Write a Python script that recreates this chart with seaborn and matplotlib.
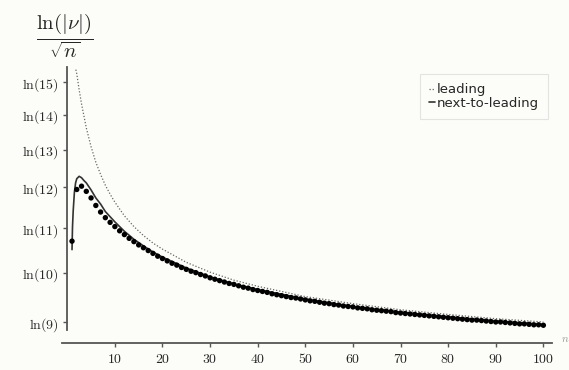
import matplotlib
matplotlib.use("Agg")
import matplotlib.pyplot as plt
import seaborn as sns
import numpy as np
import pandas as pd

# values (y = ln|nu| / sqrt(n))
n_dots = list(range(1, 101))
y_dots = [2.370, 2.480, 2.487, 2.476, 2.462, 2.446, 2.432, 2.420, 2.410, 2.401,
          2.392, 2.384, 2.376, 2.369, 2.362, 2.356, 2.350, 2.344, 2.338, 2.333,
          2.328, 2.323, 2.319, 2.314, 2.310, 2.306, 2.303, 2.299, 2.296, 2.292,
          2.289, 2.286, 2.283, 2.280, 2.278, 2.275, 2.272, 2.270, 2.267, 2.265,
          2.263, 2.261, 2.258, 2.256, 2.254, 2.252, 2.250, 2.249, 2.247, 2.245,
          2.243, 2.242, 2.240, 2.238, 2.237, 2.235, 2.234, 2.232, 2.231, 2.230,
          2.228, 2.227, 2.226, 2.224, 2.223, 2.222, 2.221, 2.220, 2.218, 2.217,
          2.216, 2.215, 2.214, 2.213, 2.212, 2.211, 2.210, 2.209, 2.208, 2.207,
          2.206, 2.205, 2.204, 2.203, 2.202, 2.202, 2.201, 2.200, 2.199, 2.198,
          2.198, 2.197, 2.196, 2.195, 2.194, 2.194, 2.193, 2.192, 2.192, 2.191]

n_lead = [1.8, 2, 2.5, 3, 4, 5, 6, 7, 8, 9, 10, 12, 14, 16, 18, 20, 25, 30, 35, 40,
          50, 60, 70, 80, 90, 100]
y_lead = [2.735, 2.726, 2.692, 2.662, 2.611, 2.571, 2.538, 2.512, 2.489, 2.470,
          2.453, 2.424, 2.401, 2.382, 2.366, 2.353, 2.325, 2.304, 2.287, 2.274,
          2.252, 2.237, 2.224, 2.214, 2.205, 2.198]

n_nlo = [1.0, 1.1, 1.25, 1.5, 1.75, 2, 2.5, 3, 3.5, 4, 5, 6, 7, 8, 9, 10, 12, 14, 16,
         18, 20, 25, 30, 35, 40, 50, 60, 70, 80, 90, 100]
y_nlo = [2.352, 2.400, 2.435, 2.474, 2.494, 2.503, 2.508, 2.505, 2.499, 2.494,
         2.479, 2.462, 2.449, 2.433, 2.422, 2.411, 2.391, 2.374, 2.360, 2.347,
         2.336, 2.313, 2.294, 2.279, 2.267, 2.247, 2.231, 2.219, 2.209, 2.200, 2.193]

y_ticks = [np.log(k) for k in range(9, 16)]
y_ticklabels = [r"$\ln(%d)$" % k for k in range(9, 16)]
x_ticks = list(range(10, 101, 10))

sns.set_style("ticks")
plt.rcParams["mathtext.fontset"] = "cm"
plt.rcParams["font.family"] = ["DejaVu Sans"]

bg = "#fcfdf8"
spine_col = "#555555"

fig = plt.figure(figsize=(5.69, 3.70), dpi=100, facecolor=bg)
ax = fig.add_axes([0.109, 0.072, 0.861, 0.748], facecolor=bg)

df_lead = pd.DataFrame({"n": n_lead, "y": y_lead})
df_nlo = pd.DataFrame({"n": n_nlo, "y": y_nlo})
df_dots = pd.DataFrame({"n": n_dots, "y": y_dots})

sns.lineplot(data=df_lead, x="n", y="y", ax=ax, color="#666666", lw=0.9,
             linestyle=(0, (1, 1.5)), label="leading", sort=False)
sns.lineplot(data=df_nlo, x="n", y="y", ax=ax, color="#333333", lw=1.2,
             label="next-to-leading", sort=False)
sns.scatterplot(data=df_dots, x="n", y="y", ax=ax, color="black", s=15,
                edgecolor="none", zorder=3)

ax.set_xlim(-1.1, 101.8)
ax.set_ylim(2.1525, 2.7415)
ax.spines["left"].set_position(("data", 0))
ax.spines["left"].set_bounds(2.180, 2.7415)
ax.spines["top"].set_visible(False)
ax.spines["right"].set_visible(False)
for s in ["left", "bottom"]:
    ax.spines[s].set_color(spine_col)
    ax.spines[s].set_linewidth(1.3)

ax.set_yticks(y_ticks)
ax.set_yticklabels(y_ticklabels)
ax.set_xticks(x_ticks)
ax.set_xticklabels([r"$%d$" % v for v in x_ticks])
ax.tick_params(axis="both", direction="out", length=3, width=1, color=spine_col,
               labelsize=10, pad=3)
ax.set_xlabel("")
ax.set_ylabel("")

fig.text(0.113, 0.905, r"$\dfrac{\ln(|\nu|)}{\sqrt{n}}$", fontsize=15,
         ha="center", va="center")
fig.text(0.986, 0.085, r"$n$", fontsize=8, color="#999999", ha="left", va="center")

leg = ax.legend(loc="upper right", bbox_to_anchor=(0.963, 0.80),
                bbox_transform=fig.transFigure, fontsize=9.5, frameon=True,
                fancybox=False, handlelength=0.45, handletextpad=0.12,
                labelspacing=0.05, borderpad=0.7, borderaxespad=0)
leg.get_frame().set_edgecolor("#dddddd")
leg.get_frame().set_linewidth(0.8)
leg.get_frame().set_facecolor(bg)

fig.savefig("out.png", dpi=100, facecolor=bg)
